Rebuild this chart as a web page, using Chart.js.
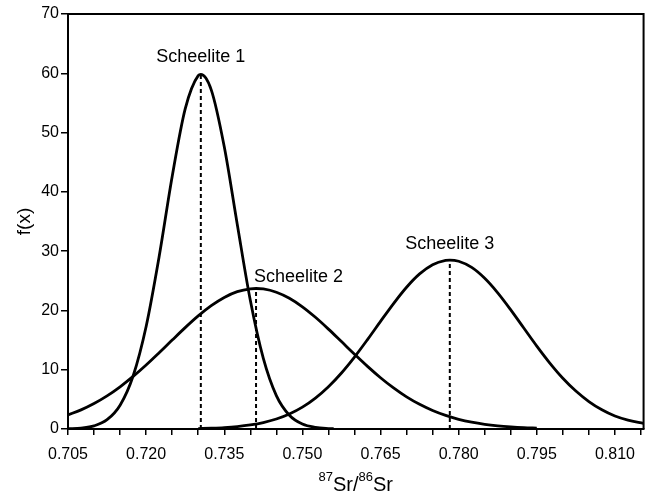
<!DOCTYPE html>
<html>
<head>
<meta charset="utf-8">
<script src="https://cdn.jsdelivr.net/npm/chart.js@4/dist/chart.umd.min.js"></script>
<style>
  body { margin: 0; background: #fff; }
  canvas { display: block; }
</style>
</head>
<body>
<canvas id="chart" width="651" height="503"></canvas>
<script>
const names = ["Scheelite 1", "Scheelite 2", "Scheelite 3"];
const peakX = [0.7305, 0.7411, 0.7783];
const peakY = [59.8, 23.7, 28.5];

const x1 = [0.705, 0.7075, 0.710, 0.7125, 0.715, 0.7175, 0.720, 0.7225, 0.725, 0.7275, 0.730, 0.7305,
  0.7325, 0.735, 0.7375, 0.740, 0.7425, 0.745, 0.7475, 0.750, 0.7525, 0.755, 0.756];
const y1 = [0.04, 0.16, 0.53, 1.57, 4.02, 8.95, 17.3, 29.1, 42.6, 54.0, 59.6, 59.8,
  57.2, 47.6, 34.5, 21.7, 11.9, 5.63, 2.32, 0.83, 0.26, 0.07, 0.04];

const x2 = [0.705, 0.7075, 0.710, 0.7125, 0.715, 0.7175, 0.720, 0.7225, 0.725, 0.7275, 0.730, 0.7325,
  0.735, 0.7375, 0.740, 0.7411, 0.7425, 0.745, 0.7475, 0.750, 0.7525, 0.755, 0.7575, 0.760, 0.7625,
  0.765, 0.7675, 0.770, 0.7725, 0.775, 0.7775, 0.780, 0.7825, 0.785, 0.7875, 0.790, 0.7925, 0.795];
const y2 = [2.37, 3.23, 4.30, 5.59, 7.12, 8.87, 10.8, 12.87, 15.0, 17.1, 19.07, 20.8,
  22.19, 23.16, 23.65, 23.7, 23.62, 23.07, 22.05, 20.61, 18.84, 16.85, 14.74, 12.62, 10.56,
  8.65, 6.93, 5.42, 4.16, 3.12, 2.29, 1.64, 1.15, 0.79, 0.53, 0.35, 0.22, 0.14];

const x3 = [0.730, 0.7325, 0.735, 0.7375, 0.740, 0.7425, 0.745, 0.7475, 0.750, 0.7525, 0.755, 0.7575,
  0.760, 0.7625, 0.765, 0.7675, 0.770, 0.7725, 0.775, 0.7775, 0.7783, 0.780, 0.7825, 0.785, 0.7875,
  0.790, 0.7925, 0.795, 0.7975, 0.800, 0.8025, 0.805, 0.8075, 0.810, 0.8125, 0.8155];
const y3 = [0.07, 0.14, 0.24, 0.41, 0.68, 1.08, 1.68, 2.53, 3.69, 5.22, 7.13, 9.45,
  12.13, 15.08, 18.15, 21.16, 23.91, 26.16, 27.72, 28.45, 28.5, 28.29, 27.25, 25.42, 22.97,
  20.1, 17.04, 13.99, 11.13, 8.57, 6.4, 4.63, 3.24, 2.19, 1.5, 0.95];

const xMin = 0.705, xMax = 0.8155, xStep = 0.005;
const yMin = 0, yMax = 70, yStep = 10;

const FONT = "'Liberation Sans', Arial, Helvetica, sans-serif";

function toPoints(xs, ys) {
  return xs.map((x, i) => ({ x: x, y: ys[i] }));
}

const curves = [[x1, y1], [x2, y2], [x3, y3]].map((c, i) => ({
  label: names[i],
  data: toPoints(c[0], c[1]),
  borderColor: "#000",
  borderWidth: 2.8,
  pointRadius: 0,
  tension: 0.4,
  cubicInterpolationMode: "monotone",
  fill: false,
}));

const dropLines = peakX.map((px, i) => ({
  label: names[i] + " mean",
  data: [{ x: px, y: 0 }, { x: px, y: peakY[i] }],
  borderColor: "#000",
  borderWidth: 2,
  borderDash: [4, 3],
  pointRadius: 0,
  fill: false,
}));

// frame, peak labels and axis titles
const extras = {
  id: "extras",
  afterDraw(chart) {
    const ctx = chart.ctx;
    const a = chart.chartArea;
    const xs = chart.scales.x, ys = chart.scales.y;
    ctx.save();
    ctx.strokeStyle = "#000";
    ctx.lineWidth = 2;
    ctx.beginPath();
    ctx.moveTo(a.left, a.top);
    ctx.lineTo(a.right, a.top);
    ctx.lineTo(a.right, a.bottom);
    ctx.stroke();

    ctx.fillStyle = "#000";
    ctx.font = "18px " + FONT;
    ctx.textBaseline = "alphabetic";
    // peak labels
    const offs = [[0, -12, "center"], [-2, -6, "left"], [0, -11, "center"]];
    names.forEach((n, i) => {
      ctx.textAlign = offs[i][2];
      ctx.fillText(n, xs.getPixelForValue(peakX[i]) + offs[i][0], ys.getPixelForValue(peakY[i]) + offs[i][1]);
    });

    // y title
    ctx.save();
    ctx.font = "19px " + FONT;
    ctx.translate(30, (a.top + a.bottom) / 2);
    ctx.rotate(-Math.PI / 2);
    ctx.textAlign = "center";
    ctx.fillText("f(x)", 0, 0);
    ctx.restore();

    // x title with superscripts
    const parts = [["87", 13, -10], ["Sr/", 20, 0], ["86", 13, -10], ["Sr", 20, 0]];
    let total = 0;
    parts.forEach((p) => {
      ctx.font = p[1] + "px " + FONT;
      p.push(ctx.measureText(p[0]).width);
      total += p[3];
    });
    let cx = (a.left + a.right) / 2 - total / 2;
    ctx.textAlign = "left";
    parts.forEach((p) => {
      ctx.font = p[1] + "px " + FONT;
      ctx.fillText(p[0], cx, 491 + p[2]);
      cx += p[3];
    });
    ctx.restore();
  },
};

new Chart(document.getElementById("chart"), {
  type: "line",
  data: { datasets: dropLines.concat(curves) },
  options: {
    responsive: false,
    animation: false,
    layout: { padding: { top: 14, right: 6, left: 0, bottom: 0 } },
    plugins: { legend: { display: false }, tooltip: { enabled: false } },
    scales: {
      x: {
        type: "linear",
        min: xMin,
        max: xMax,
        border: { color: "#000", width: 2 },
        grid: { drawOnChartArea: false, color: "#000", lineWidth: 1.5, tickLength: 6 },
        ticks: {
          stepSize: xStep,
          includeBounds: false,
          autoSkip: false,
          maxRotation: 0,
          color: "#000",
          padding: 10,
          font: { family: FONT, size: 16 },
          callback: (v) => (Math.round((v - xMin) / xStep) % 3 === 0 ? v.toFixed(3) : ""),
        },
        afterFit: (s) => { s.height = 74; },
      },
      y: {
        min: yMin,
        max: yMax,
        border: { color: "#000", width: 2 },
        grid: { drawOnChartArea: false, color: "#000", lineWidth: 1.5, tickLength: 7 },
        ticks: {
          stepSize: yStep,
          color: "#000",
          padding: 2,
          font: { family: FONT, size: 16 },
        },
        afterFit: (s) => { s.width = 68; },
      },
    },
  },
  plugins: [extras],
});
</script>
</body>
</html>
